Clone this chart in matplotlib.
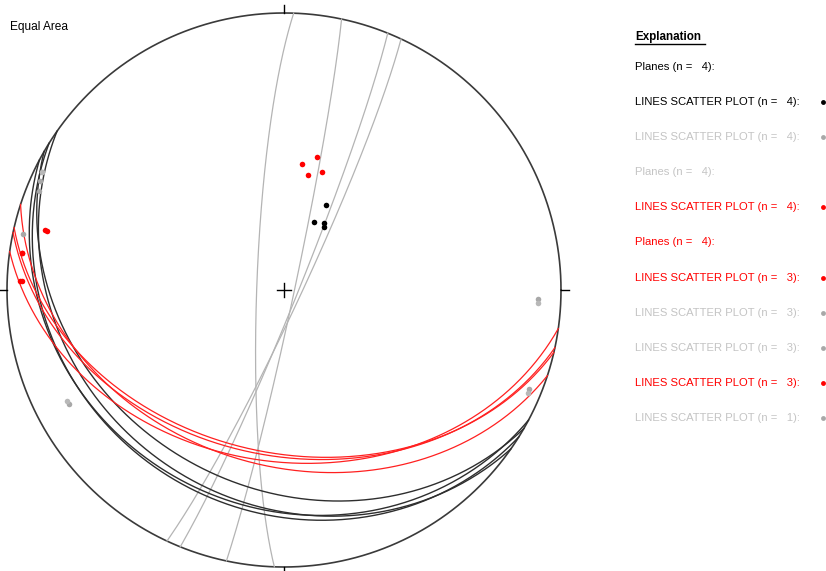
import numpy as np
import matplotlib.pyplot as plt

# planes, strike (right-hand rule) / dip in degrees
black_strike = [120, 118, 122, 125]
black_dip = [30, 23, 22, 25]
gray_strike = [182, 12, 22, 25]
gray_dip = [82, 87, 86, 85]
red_strike = [98, 102, 108, 103]
red_dip = [38, 40, 37, 41]

# lineations, trend / plunge in degrees
lines_a_trend = [26, 24, 32, 31]
lines_a_plunge = [62, 68, 68, 67]
lines_b_trend = [296, 292, 282, 242]
lines_b_plunge = [3, 5, 4, 13]
lines_c_trend = [8, 14, 12, 18]
lines_c_plunge = [52, 49, 55, 53]
lines_d_trend = [284, 278, 272]
lines_d_plunge = [13, 5, 5]
lines_e_trend = [92, 112, 294]
lines_e_plunge = [9, 5, 4]
lines_f_trend = [93, 113, 243]
lines_f_plunge = [9, 5, 13]
lines_g_trend = [284, 278, 272]
lines_g_plunge = [12, 5, 6]
lines_h_trend = [296]
lines_h_plunge = [3]

legend_rows = [
    ("Planes (n =   4):", "black", None),
    ("LINES SCATTER PLOT (n =   4):", "black", "black"),
    ("LINES SCATTER PLOT (n =   4):", "#c4c4c4", "#a8a8a8"),
    ("Planes (n =   4):", "#c4c4c4", None),
    ("LINES SCATTER PLOT (n =   4):", "#ff0000", "#ff0000"),
    ("Planes (n =   4):", "#ff0000", None),
    ("LINES SCATTER PLOT (n =   3):", "#ff0000", "#ff0000"),
    ("LINES SCATTER PLOT (n =   3):", "#c4c4c4", "#a8a8a8"),
    ("LINES SCATTER PLOT (n =   3):", "#c4c4c4", "#a8a8a8"),
    ("LINES SCATTER PLOT (n =   3):", "#ff0000", "#ff0000"),
    ("LINES SCATTER PLOT (n =   1):", "#c4c4c4", "#a8a8a8"),
]


def project(trend, plunge):
    # lower hemisphere, equal area (Schmidt)
    t = np.radians(trend)
    p = np.radians(plunge)
    r = np.sqrt(2) * np.sin((np.pi / 2 - p) / 2)
    return r * np.sin(t), r * np.cos(t)


def great_circle(strike, dip):
    s = np.radians(strike)
    d = np.radians(dip)
    dd = s + np.pi / 2
    a = np.linspace(0, np.pi, 361)
    S = np.array([np.sin(s), np.cos(s), 0.0])
    D = np.array([np.sin(dd) * np.cos(d), np.cos(dd) * np.cos(d), np.sin(d)])
    v = np.cos(a)[:, None] * S + np.sin(a)[:, None] * D
    plunge = np.degrees(np.arcsin(np.clip(v[:, 2], -1, 1)))
    trend = np.degrees(np.arctan2(v[:, 0], v[:, 1]))
    return project(trend, plunge)


plt.rcParams['font.family'] = ['Liberation Sans', 'DejaVu Sans']

W, H = 826, 571
fig = plt.figure(figsize=(W / 100, H / 100), dpi=100)

cx, cy, R = 284, 290, 277
ax = fig.add_axes([(cx - 1.1 * R) / W, (H - cy - 1.1 * R) / H, 2.2 * R / W, 2.2 * R / H])
ax.set_xlim(-1.1, 1.1)
ax.set_ylim(-1.1, 1.1)
ax.axis('off')

# primitive circle, ticks and centre cross
th = np.linspace(0, 2 * np.pi, 721)
ax.plot(np.cos(th), np.sin(th), color='#3a3a3a', lw=1.2, clip_on=False)
for az in [0, 90, 180, 270]:
    x0, y0 = np.sin(np.radians(az)), np.cos(np.radians(az))
    ax.plot([x0, 1.03 * x0], [y0, 1.03 * y0], color='black', lw=1, clip_on=False)
ax.plot([-0.025, 0.025], [0, 0], color='black', lw=1)
ax.plot([0, 0], [-0.025, 0.025], color='black', lw=1)

for s, d in zip(gray_strike, gray_dip):
    x, y = great_circle(s, d)
    ax.plot(x, y, color='#b4b4b4', lw=0.9)
for s, d in zip(black_strike, black_dip):
    x, y = great_circle(s, d)
    ax.plot(x, y, color='#2e2e2e', lw=1.0)
for s, d in zip(red_strike, red_dip):
    x, y = great_circle(s, d)
    ax.plot(x, y, color='#ff2020', lw=0.9)

point_sets = [
    (lines_a_trend, lines_a_plunge, 'black'),
    (lines_b_trend, lines_b_plunge, '#a8a8a8'),
    (lines_c_trend, lines_c_plunge, '#ff0000'),
    (lines_d_trend, lines_d_plunge, '#ff0000'),
    (lines_e_trend, lines_e_plunge, '#a8a8a8'),
    (lines_f_trend, lines_f_plunge, '#b8b8b8'),
    (lines_g_trend, lines_g_plunge, '#ff0000'),
    (lines_h_trend, lines_h_plunge, '#b8b8b8'),
]
for tr, pl, c in point_sets:
    x, y = project(np.array(tr), np.array(pl))
    ax.plot(x, y, 'o', color=c, ms=4, mec='none')

fig.text(10 / W, 1 - 27 / H, "Equal Area", fontsize=8.6, va='center')

# explanation panel in pixel coordinates
lax = fig.add_axes([0, 0, 1, 1])
lax.set_xlim(0, W)
lax.set_ylim(H, 0)
lax.axis('off')
lax.patch.set_alpha(0)

head = lax.text(635, 37, "Explanation", fontsize=8.4, fontweight='bold', va='center')
row_y = [67, 102, 137, 172, 207, 242, 278, 313, 348, 383, 418]
for (label, tc, mc), yy in zip(legend_rows, row_y):
    lax.text(635, yy, label, fontsize=8.1, color=tc, va='center')
    if mc is not None:
        lax.plot(823, yy, 'o', color=mc, ms=3.5, mec='none', clip_on=False)

fig.canvas.draw()
bb = head.get_window_extent()
lax.plot([bb.x0, bb.x1 + 4], [H - bb.y0 + 1, H - bb.y0 + 1], color='black', lw=1)

fig.savefig('out.png', dpi=100)
